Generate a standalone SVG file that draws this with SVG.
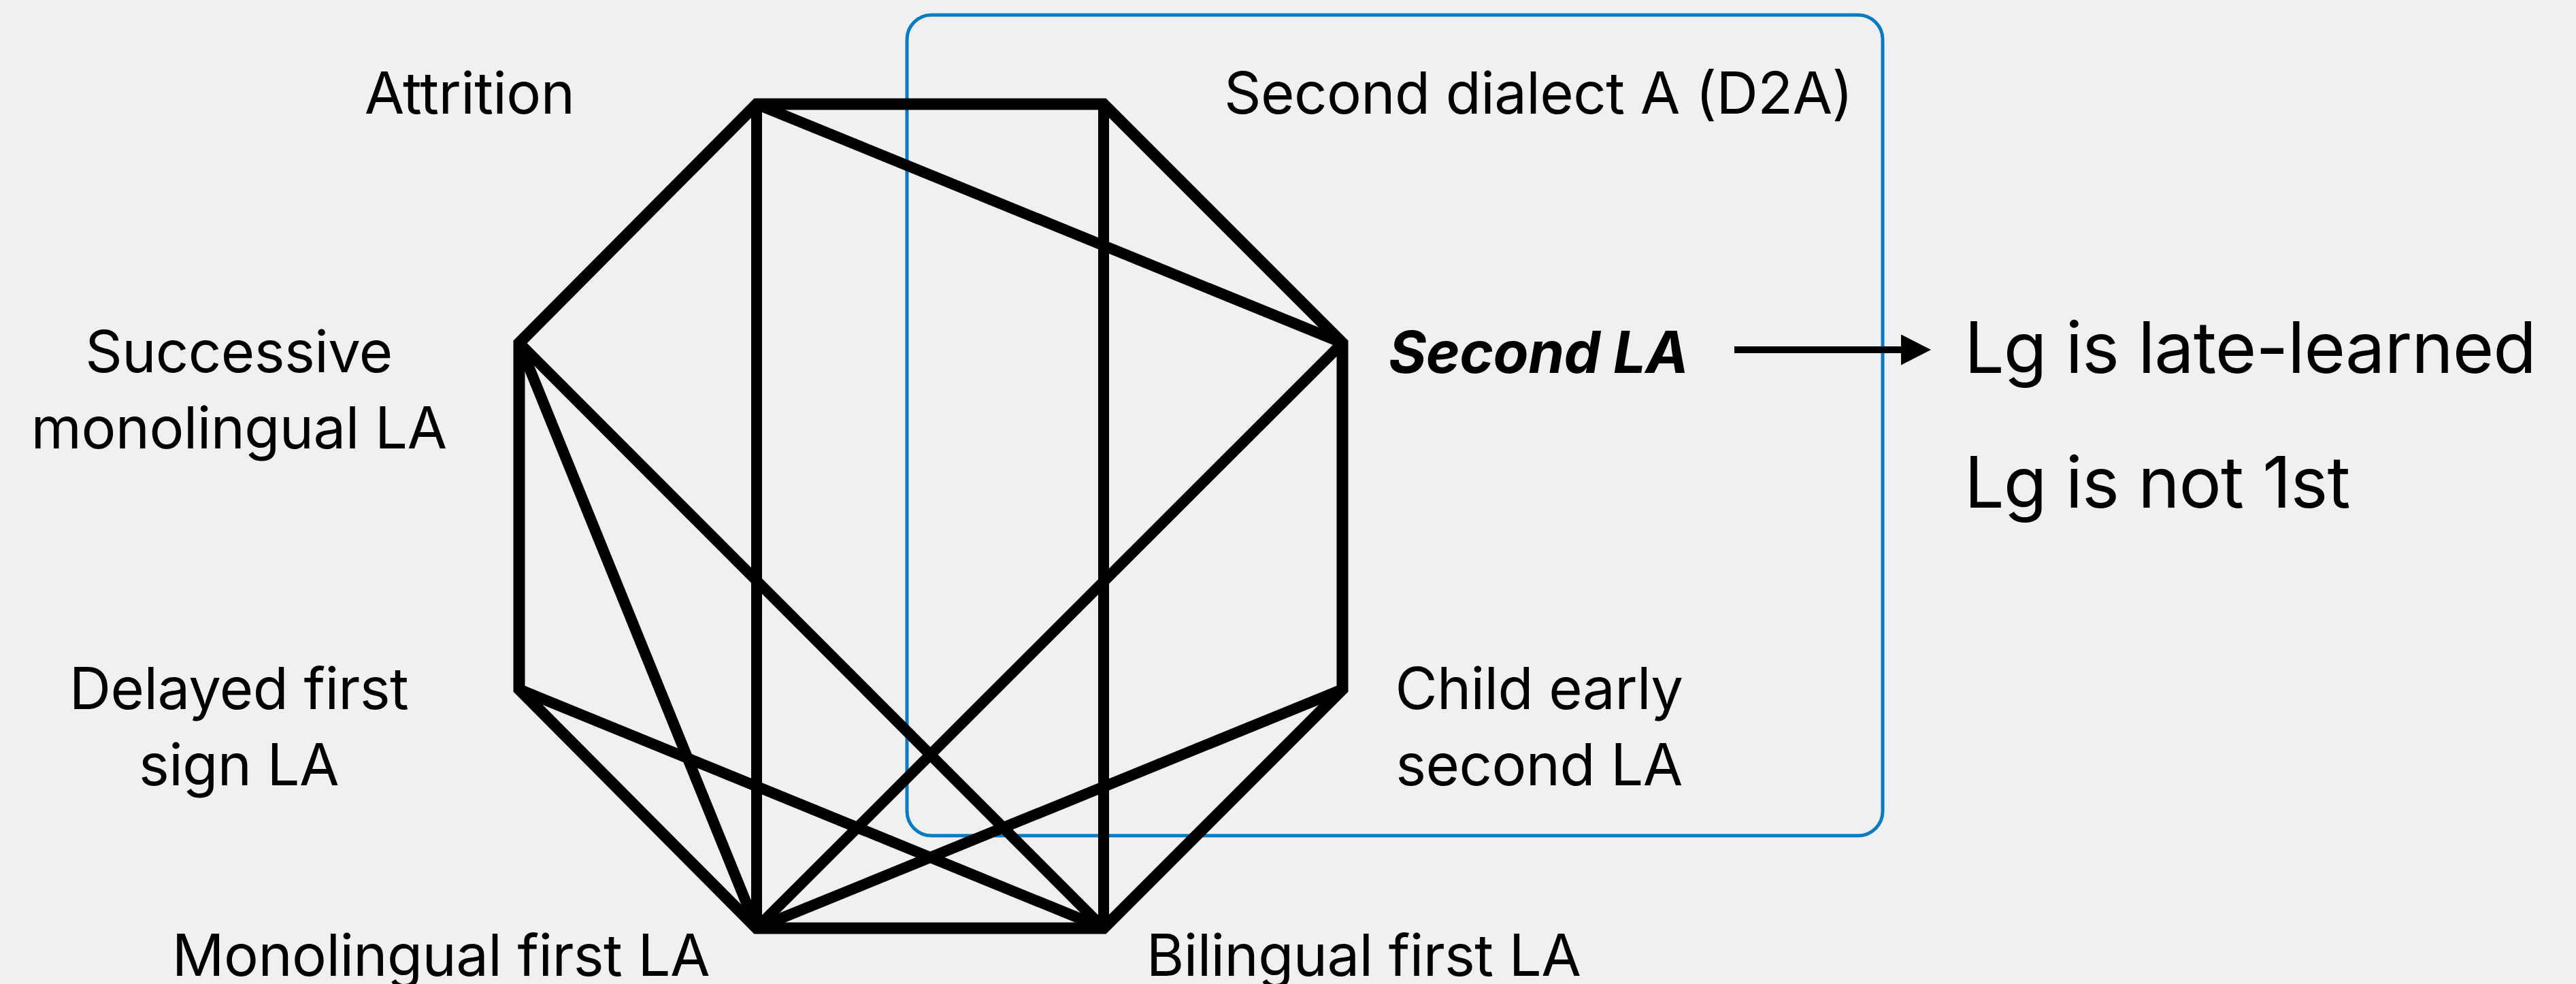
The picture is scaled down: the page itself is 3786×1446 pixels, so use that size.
<svg xmlns="http://www.w3.org/2000/svg" width="3786" height="1446" viewBox="0 0 3786 1446">
  <style>
    .lbl { font-family: Inter, "Liberation Sans", sans-serif; font-size: 85px; fill: #000; text-anchor: middle; letter-spacing: -0.6px; }
    .big { font-family: Inter, "Liberation Sans", sans-serif; font-size: 104px; fill: #000; letter-spacing: -1px; }
    .edge { stroke: #000; stroke-width: 16; fill: none; stroke-linecap: butt; }
    .outline { stroke: #000; stroke-width: 17; fill: none; stroke-linejoin: miter; }
  </style>
  <defs>
    <marker id="arrow" markerUnits="userSpaceOnUse" viewBox="0 0 44 45" refX="0" refY="22.5" markerWidth="44" markerHeight="45" orient="auto">
      <path d="M0,0 L44,22.5 L0,45 Z" fill="#000"/>
    </marker>
  </defs>
  <rect x="0" y="0" width="3786" height="1446" fill="#eff0f2"/>

  <g id="group-box">
    <rect x="1333" y="22" width="1434" height="1206" rx="36" ry="36" fill="none" stroke="#0b7bc1" stroke-width="5"/>
  </g>

  <g id="connectors">
    <polygon class="outline" points="1112,153 1622,153 1973,504 1973,1013 1622,1364 1112,1364 763,1013 763,504"/>
    <line class="edge" x1="1112" y1="153" x2="1112" y2="1364"/>
    <line class="edge" x1="1622" y1="153" x2="1622" y2="1364"/>
    <line class="edge" x1="1112" y1="153" x2="1973" y2="504"/>
    <line class="edge" x1="763" y1="504" x2="1622" y2="1364"/>
    <line class="edge" x1="763" y1="504" x2="1112" y2="1364"/>
    <line class="edge" x1="1973" y1="504" x2="1112" y2="1364"/>
    <line class="edge" x1="763" y1="1013" x2="1622" y2="1364"/>
    <line class="edge" x1="1973" y1="1013" x2="1112" y2="1364"/>
    <line x1="2549" y1="514" x2="2794" y2="514" stroke="#000" stroke-width="10" marker-end="url(#arrow)"/>
  </g>

  <g id="node-attrition">
    <text class="lbl" x="690" y="167">Attrition</text>
  </g>
  <g id="node-d2a">
    <text class="lbl" x="2261" y="167">Second dialect A (D2A)</text>
  </g>
  <g id="node-successive">
    <text class="lbl" x="351" y="547">Successive</text>
    <text class="lbl" x="351" y="659">monolingual LA</text>
  </g>
  <g id="node-second-la">
    <text class="lbl" x="2261" y="548" font-weight="bold" font-style="italic">Second LA</text>
  </g>
  <g id="node-delayed">
    <text class="lbl" x="351" y="1042">Delayed first</text>
    <text class="lbl" x="351" y="1154">sign LA</text>
  </g>
  <g id="node-child">
    <text class="lbl" x="2262" y="1042">Child early</text>
    <text class="lbl" x="2262" y="1154">second LA</text>
  </g>
  <g id="node-monolingual">
    <text class="lbl" x="648" y="1434">Monolingual first LA</text>
  </g>
  <g id="node-bilingual">
    <text class="lbl" x="2004" y="1434">Bilingual first LA</text>
  </g>
  <g id="node-result">
    <text class="big" x="2887" y="548">Lg is late-learned</text>
    <text class="big" x="2887" y="746">Lg is not 1st</text>
  </g>
</svg>
